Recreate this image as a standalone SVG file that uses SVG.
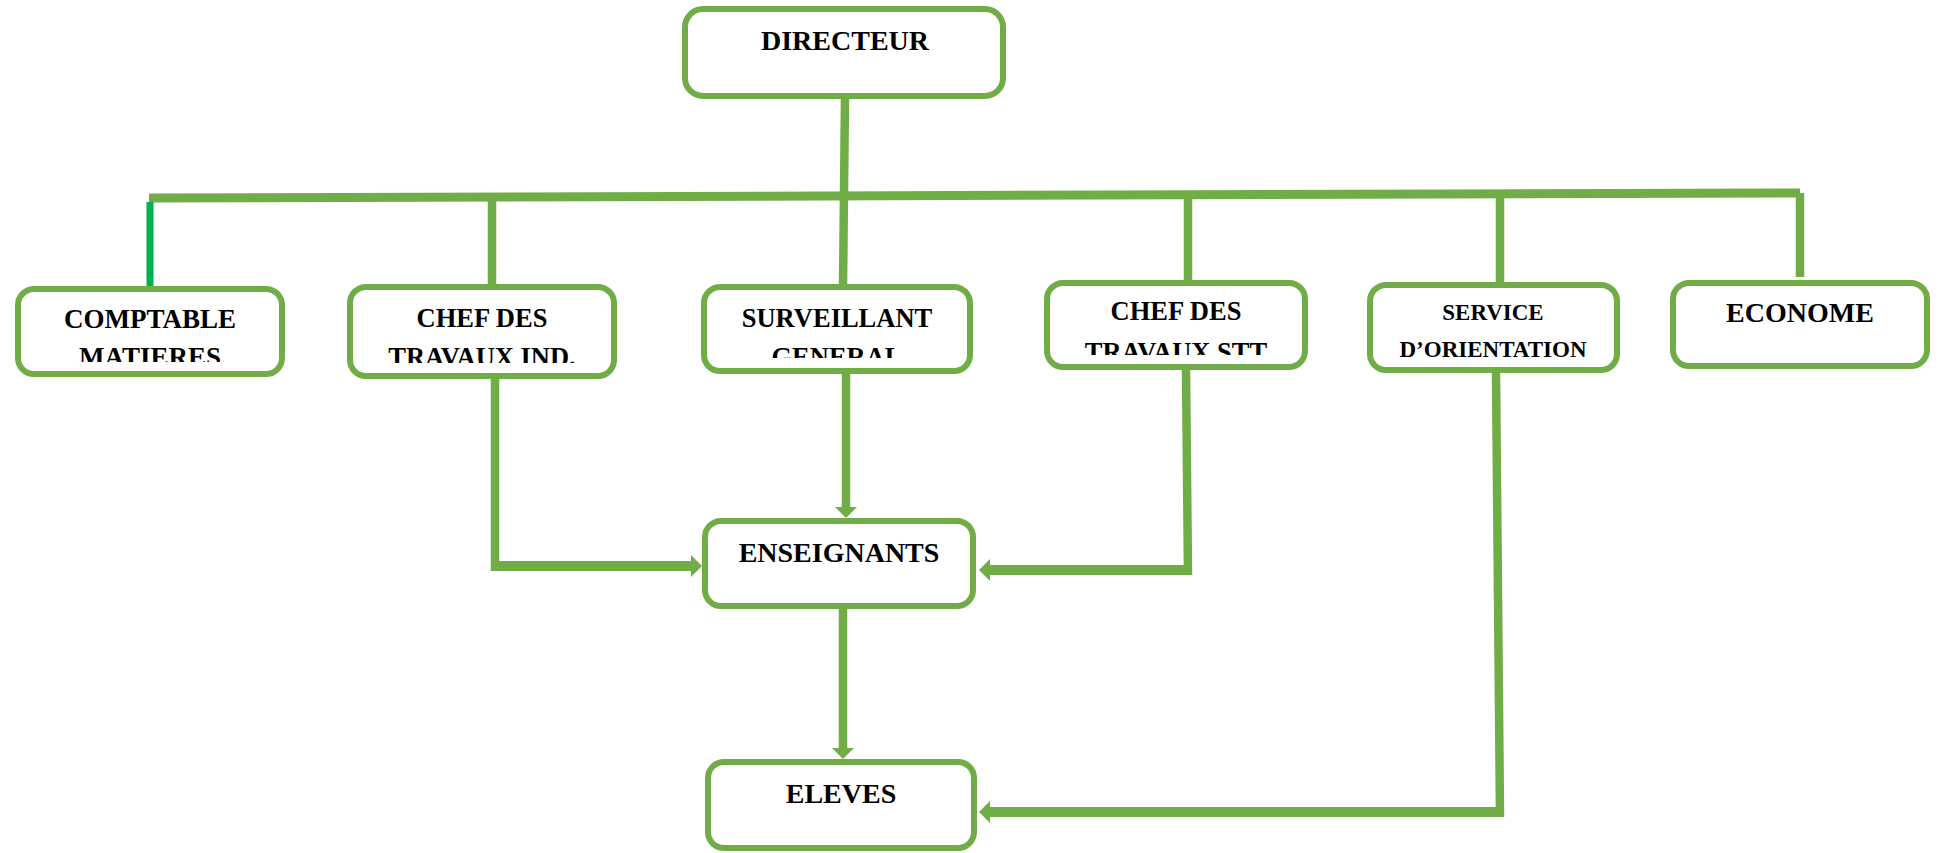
<svg xmlns="http://www.w3.org/2000/svg" width="1942" height="853" viewBox="0 0 1942 853">
<style>
.box{fill:#fff;stroke:#70AD47;stroke-width:6}
.t{font-family:"Liberation Serif","Times New Roman",serif;font-weight:bold;fill:#000;text-anchor:middle}
.ln{fill:none;stroke:#70AD47;stroke-width:8.5}
.th{fill:none;stroke:#70AD47;stroke-width:10}
</style>
<defs>
<marker id="ah" markerUnits="userSpaceOnUse" markerWidth="11" markerHeight="22" viewBox="0 0 11 22" refX="0" refY="11" orient="auto">
<path d="M0,0 L11,11 L0,22 z" fill="#70AD47"/>
</marker>
<clipPath id="c1"><rect x="15" y="286" width="270" height="76"/></clipPath>
<clipPath id="c2"><rect x="347" y="284" width="270" height="79"/></clipPath>
<clipPath id="c3"><rect x="701" y="284" width="272" height="74"/></clipPath>
<clipPath id="c4"><rect x="1044" y="280" width="264" height="75"/></clipPath>
</defs>
<rect width="1942" height="853" fill="#fff"/>
<g id="connectors">
<path class="ln" d="M845,97 L843,288"/>
<path d="M149,198 L1800,193" fill="none" stroke="#70AD47" stroke-width="9"/>
<path d="M150,202 V288" fill="none" stroke="#00B050" stroke-width="7"/>
<path class="ln" d="M492,198 V288"/>
<path class="ln" d="M1188,196 V284"/>
<path class="ln" d="M1500,195 V286"/>
<path class="ln" d="M1800,193 V277"/>
<path class="ln" d="M846,374 V507" marker-end="url(#ah)"/>
<path class="ln" d="M495,379 V571"/>
<path class="th" d="M491,566 H691" marker-end="url(#ah)"/>
<path class="ln" d="M1186,370 L1188,575"/>
<path class="th" d="M1192,570 H990" marker-end="url(#ah)"/>
<path class="ln" d="M843,609 V748" marker-end="url(#ah)"/>
<path class="ln" d="M1496,373 L1500,817"/>
<path class="th" d="M1504,812 H990" marker-end="url(#ah)"/>
</g>
<g id="directeur">
<rect class="box" x="685" y="9" width="318" height="87" rx="18"/>
<text class="t" x="845" y="50" font-size="28">DIRECTEUR</text>
</g>
<g id="comptable">
<rect class="box" x="18" y="289" width="264" height="85" rx="16"/>
<g clip-path="url(#c1)">
<text class="t" x="150" y="328" font-size="27">COMPTABLE</text>
<text class="t" x="150" y="366" font-size="27">MATIERES</text>
</g>
</g>
<g id="chef-ind">
<rect class="box" x="350" y="287" width="264" height="89" rx="16"/>
<g clip-path="url(#c2)">
<text class="t" x="482" y="327" font-size="26.5">CHEF DES</text>
<text class="t" x="482" y="366" font-size="26.5">TRAVAUX IND.</text>
</g>
</g>
<g id="surveillant">
<rect class="box" x="704" y="287" width="266" height="84" rx="16"/>
<g clip-path="url(#c3)">
<text class="t" x="837" y="327" font-size="26.5">SURVEILLANT</text>
<text class="t" x="837" y="366" font-size="26.5">GENERAL</text>
</g>
</g>
<g id="chef-stt">
<rect class="box" x="1047" y="283" width="258" height="84" rx="16"/>
<g clip-path="url(#c4)">
<text class="t" x="1176" y="320" font-size="26.5">CHEF DES</text>
<text class="t" x="1176" y="361" font-size="26.5">TRAVAUX STT</text>
</g>
</g>
<g id="service">
<rect class="box" x="1370" y="285" width="247" height="85" rx="16"/>
<text class="t" x="1493" y="320" font-size="23">SERVICE</text>
<text class="t" x="1493" y="357" font-size="23">D’ORIENTATION</text>
</g>
<g id="econome">
<rect class="box" x="1673" y="283" width="254" height="83" rx="16"/>
<text class="t" x="1800" y="322" font-size="28">ECONOME</text>
</g>
<g id="enseignants">
<rect class="box" x="705" y="521" width="268" height="85" rx="16"/>
<text class="t" x="839" y="562" font-size="28">ENSEIGNANTS</text>
</g>
<g id="eleves">
<rect class="box" x="708" y="762" width="266" height="86" rx="16"/>
<text class="t" x="841" y="803" font-size="28">ELEVES</text>
</g>
</svg>
